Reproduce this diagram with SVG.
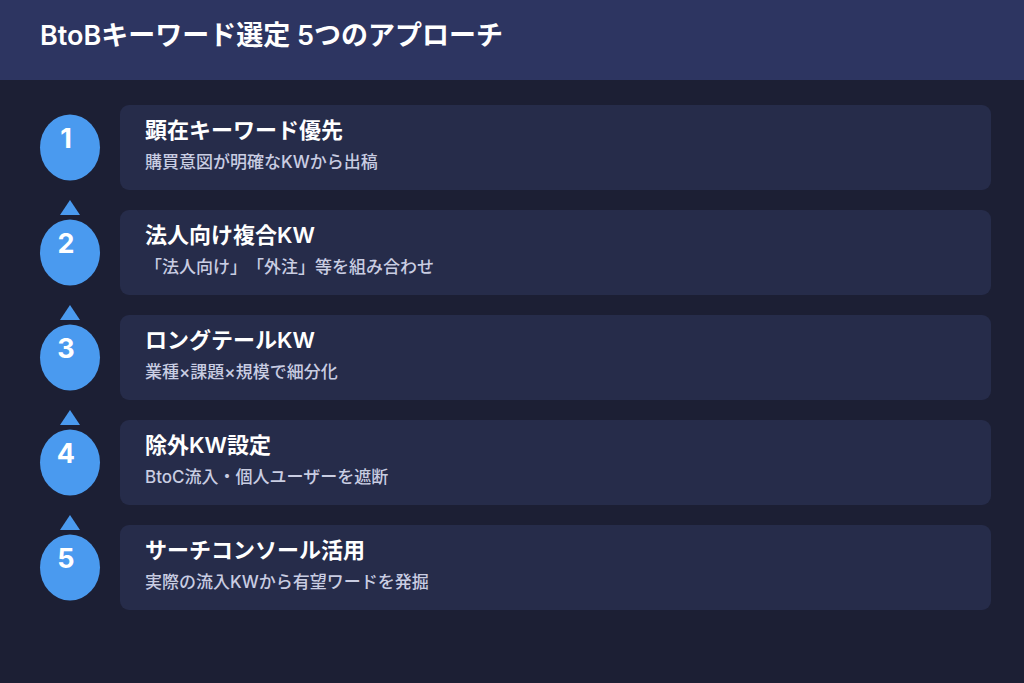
<svg xmlns="http://www.w3.org/2000/svg" width="1024" height="683" viewBox="0 0 1024 683">
<style>
.bg{fill:#1c1f34}
.hdr{fill:#2d3561}
.card{fill:#262c4a}
.circ{fill:#4a9aef}
.tri{fill:#4a9aef}
text{text-spacing-trim:space-all}
.ttl{font-family:Inter,"Noto Sans CJK JP",sans-serif;font-weight:600;font-size:27px;fill:#ffffff}
.num{font-family:Inter,"Noto Sans CJK JP",sans-serif;font-weight:700;font-size:27px;fill:#ffffff;text-anchor:middle}
.h{font-family:Inter,"Noto Sans CJK JP",sans-serif;font-weight:600;font-size:22px;fill:#ffffff}
.s{font-family:Inter,"Noto Sans CJK JP",sans-serif;font-weight:500;font-size:17px;fill:#c9cde2}
</style>
<rect class="bg" x="0" y="0" width="1024" height="683"/>
<g id="header">
<rect class="hdr" x="0" y="0" width="1024" height="80"/>
<text class="ttl" x="40" y="45">BtoBキーワード選定 5つのアプローチ</text>
</g>
<g id="connectors">
<polygon class="tri" points="70,200 80,215 60,215"/>
<polygon class="tri" points="70,305 80,320 60,320"/>
<polygon class="tri" points="70,410 80,425 60,425"/>
<polygon class="tri" points="70,515 80,530 60,530"/>
</g>
<g id="step1">
<rect class="card" x="120" y="105" width="871" height="85" rx="9"/>
<ellipse class="circ" cx="70" cy="147.5" rx="30" ry="33"/>
<text class="num" x="66" y="148">1</text>
<text class="h" x="145" y="138">顕在キーワード優先</text>
<text class="s" x="145" y="168">購買意図が明確なKWから出稿</text>
</g>
<g id="step2">
<rect class="card" x="120" y="210" width="871" height="85" rx="9"/>
<ellipse class="circ" cx="70" cy="252.5" rx="30" ry="33"/>
<text class="num" x="66" y="253">2</text>
<text class="h" x="145" y="243">法人向け複合KW</text>
<text class="s" x="145" y="273">「法人向け」「外注」等を組み合わせ</text>
</g>
<g id="step3">
<rect class="card" x="120" y="315" width="871" height="85" rx="9"/>
<ellipse class="circ" cx="70" cy="357.5" rx="30" ry="33"/>
<text class="num" x="66" y="358">3</text>
<text class="h" x="145" y="348">ロングテールKW</text>
<text class="s" x="145" y="378">業種×課題×規模で細分化</text>
</g>
<g id="step4">
<rect class="card" x="120" y="420" width="871" height="85" rx="9"/>
<ellipse class="circ" cx="70" cy="462.5" rx="30" ry="33"/>
<text class="num" x="66" y="463">4</text>
<text class="h" x="145" y="453">除外KW設定</text>
<text class="s" x="145" y="483">BtoC流入・個人ユーザーを遮断</text>
</g>
<g id="step5">
<rect class="card" x="120" y="525" width="871" height="85" rx="9"/>
<ellipse class="circ" cx="70" cy="567.5" rx="30" ry="33"/>
<text class="num" x="66" y="568">5</text>
<text class="h" x="145" y="558">サーチコンソール活用</text>
<text class="s" x="145" y="588">実際の流入KWから有望ワードを発掘</text>
</g>
</svg>
